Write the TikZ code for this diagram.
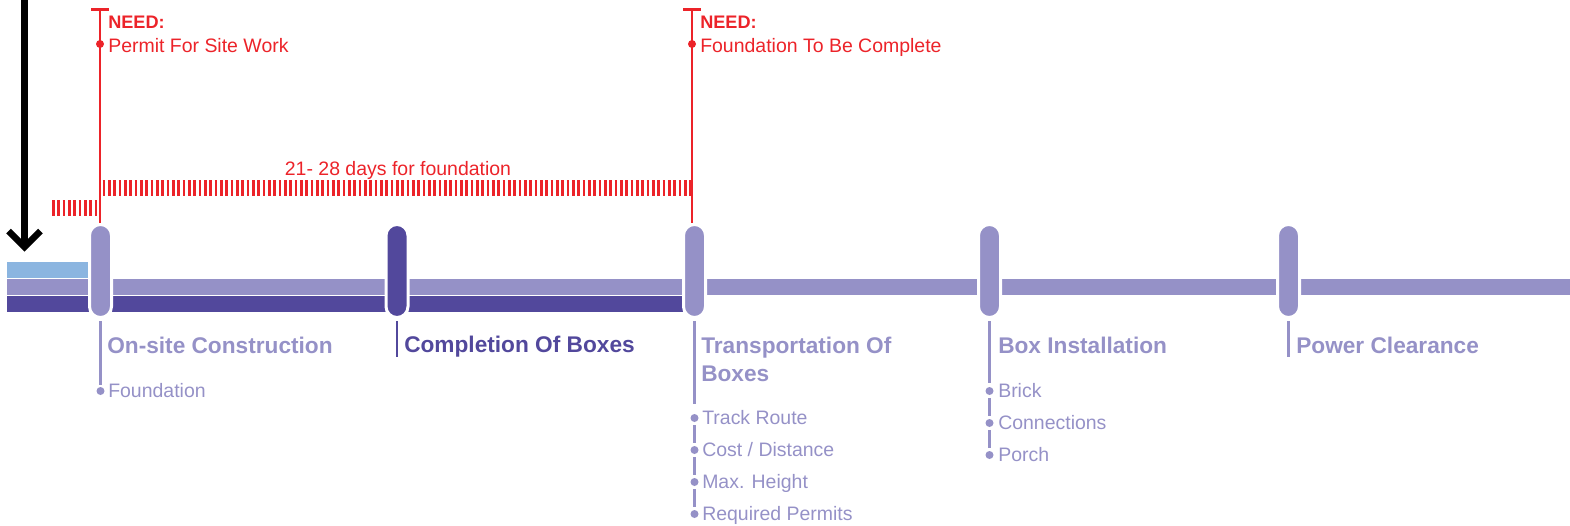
\documentclass[tikz,border=0pt]{standalone}
\usepackage{fontspec}
\setmainfont{Liberation Sans}
\usetikzlibrary{arrows.meta}
\definecolor{lp}{HTML}{9591C7}
\definecolor{dp}{HTML}{52489C}
\definecolor{lb}{HTML}{8BB5E0}
\definecolor{rd}{HTML}{EC2329}
\begin{document}
\begin{tikzpicture}[x=0.75pt,y=-0.75pt]
\tikzset{
 pill/.style={rectangle, minimum width=16.5pt, minimum height=69.75pt, rounded corners=8.25pt, inner sep=0pt, draw=white, line width=2.25pt},
 head/.style={anchor=base west, inner sep=0pt, font=\fontsize{17pt}{21pt}\selectfont\bfseries},
 item/.style={anchor=base west, inner sep=0pt, font=\fontsize{14.6pt}{17pt}\selectfont},
 need/.style={anchor=base west, inner sep=0pt, font=\fontsize{13.6pt}{16pt}\selectfont\bfseries, text=rd},
 bullet/.style={circle, inner sep=0pt, minimum size=6pt},
 conn/.style={line width=2pt},
 redline/.style={rd, line width=2pt},
 hatch/.style={rd, line width=12pt, dash pattern=on 2pt off 2pt},
}
\useasboundingbox (0,0) rectangle (1570,525);
% bars
\fill[lb] (7,262) rectangle (88,278.3);
\fill[lp] (7,279) rectangle (1570,295);
\fill[dp] (7,295.7) rectangle (690,311.5);
% milestones
\node[pill, fill=lp] (p1) at (100.5,271) {};
\node[pill, fill=dp] (p2) at (397,271) {};
\node[pill, fill=lp] (p3) at (694.5,271) {};
\node[pill, fill=lp] (p4) at (989.5,271) {};
\node[pill, fill=lp] (p5) at (1288.5,271) {};
% black arrow
\coordinate (ktop) at (24.5,0);
\coordinate (ktip) at (24.5,247);
\coordinate (kl) at (8.5,231);
\coordinate (kr) at (40.5,231);
\draw[line width=5.25pt] (ktop) -- (ktip);
\draw[line width=5pt, miter limit=10] (kl) -- (ktip) -- (kr);
% red requirement lines
\coordinate (r1t) at (100,8);
\coordinate (r2t) at (692,8);
\coordinate (r1b) at (100,223);
\coordinate (r2b) at (692,223);
\draw[redline, {Bar[width=13.5pt]}-] (r1t) -- (r1b);
\draw[redline, {Bar[width=13.5pt]}-] (r2t) -- (r2b);
\node[bullet, fill=rd] (rd1) at (100,44) {};
\node[bullet, fill=rd] (rd2) at (692,44) {};
\node[need] (n1) at (108,28) {NEED:};
\node[need] (n2) at (700,28) {NEED:};
\node[item, text=rd] (q1) at (108,52) {Permit For Site Work};
\node[item, text=rd] (q2) at (700,52) {Foundation To Be Complete};
% hatch bars
\coordinate (ha) at (52,208);
\coordinate (hb) at (97,208);
\coordinate (hc) at (102.5,188);
\coordinate (hd) at (691,188);
\draw[hatch] (ha) -- (hb);
\draw[hatch] (hc) -- (hd);
\node[anchor=base, inner sep=0pt, font=\fontsize{14.6pt}{17pt}\selectfont, text=rd] (dur) at (398,175) {21- 28 days for foundation};
% headings
\node[head, text=lp] (t1) at (107,353) {On-site Construction};
\node[head, text=dp] (t2) at (404,352) {Completion Of Boxes};
\node[head, text=lp] (t3a) at (701,353) {Transportation Of};
\node[head, text=lp] (t3b) at (701,381) {Boxes};
\node[head, text=lp] (t4) at (998,353) {Box Installation};
\node[head, text=lp] (t5) at (1296,353) {Power Clearance};
% end points of short connectors
\coordinate (e2) at (397,357);
\coordinate (e5) at (1288.5,357);
\draw[conn, dp, shorten <=1.5pt] (p2.south) -- (e2);
\draw[conn, lp, shorten <=1.5pt] (p5.south) -- (e5);
% on-site items
\node[bullet, fill=lp] (d11) at (100.5,391) {};
\node[item, text=lp] (i11) at (108,397.5) {Foundation};
\draw[conn, lp, shorten <=1.5pt, shorten >=1.5pt] (p1.south) -- (d11.north);
% transportation items
\node[bullet, fill=lp] (d31) at (694.5,418) {};
\node[bullet, fill=lp] (d32) at (694.5,450) {};
\node[bullet, fill=lp] (d33) at (694.5,482) {};
\node[bullet, fill=lp] (d34) at (694.5,514) {};
\node[item, text=lp] (i31) at (702,424.5) {Track Route};
\node[item, text=lp] (i32) at (702,456.5) {Cost / Distance};
\node[item, text=lp] (i33) at (702,488.5) {Max. Height};
\node[item, text=lp] (i34) at (702,520.5) {Required Permits};
\draw[conn, lp, shorten <=1.5pt, shorten >=7pt] (p3.south) -- (d31.north);
\draw[conn, lp, shorten >=2.4pt, shorten <=2.4pt] (d31.south) -- (d32.north);
\draw[conn, lp, shorten >=2.4pt, shorten <=2.4pt] (d32.south) -- (d33.north);
\draw[conn, lp, shorten >=2.4pt, shorten <=2.4pt] (d33.south) -- (d34.north);
% box installation items
\node[bullet, fill=lp] (d41) at (989.5,391) {};
\node[bullet, fill=lp] (d42) at (989.5,423) {};
\node[bullet, fill=lp] (d43) at (989.5,455) {};
\node[item, text=lp] (i41) at (998,397.5) {Brick};
\node[item, text=lp] (i42) at (998,429.5) {Connections};
\node[item, text=lp] (i43) at (998,461.5) {Porch};
\draw[conn, lp, shorten <=1.5pt, shorten >=3pt] (p4.south) -- (d41.north);
\draw[conn, lp, shorten >=2.4pt, shorten <=2.4pt] (d41.south) -- (d42.north);
\draw[conn, lp, shorten >=2.4pt, shorten <=2.4pt] (d42.south) -- (d43.north);
\end{tikzpicture}
\end{document}
